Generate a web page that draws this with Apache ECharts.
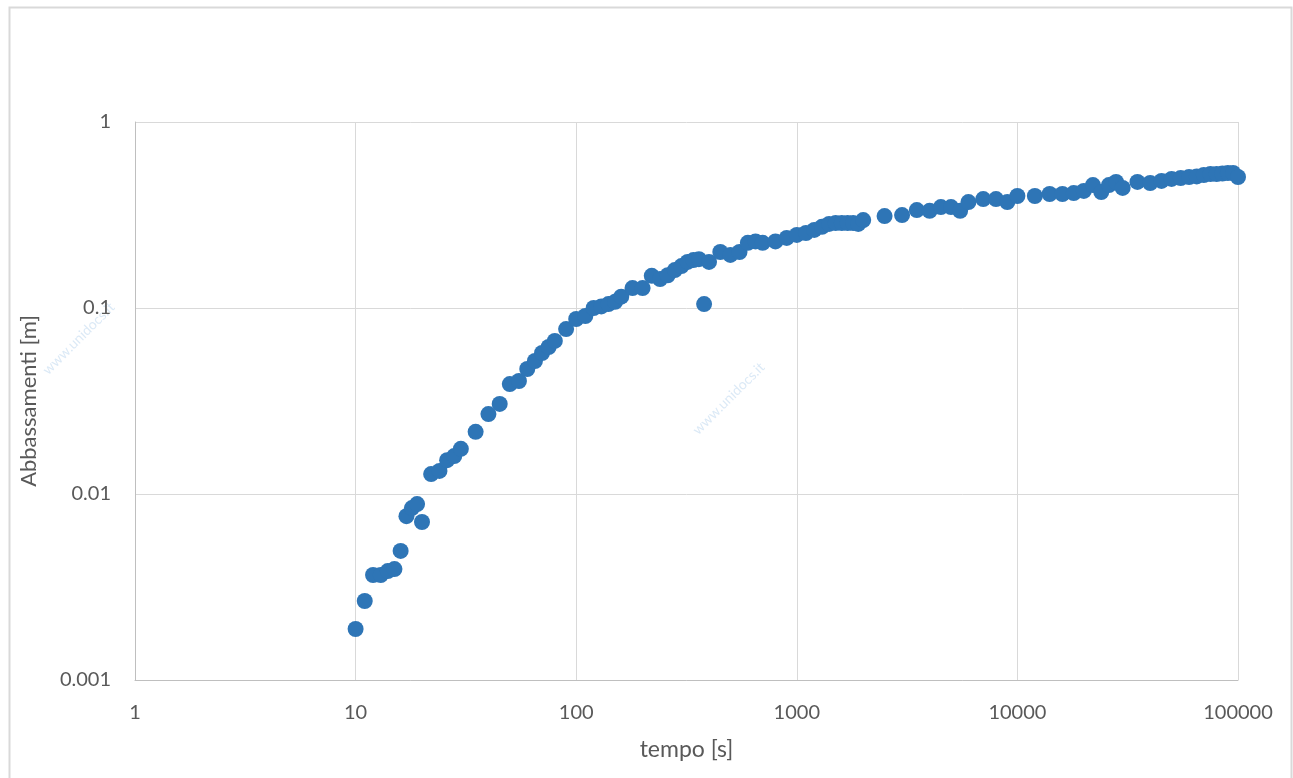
<!DOCTYPE html>
<html>
<head>
<meta charset="utf-8">
<script src="https://cdn.jsdelivr.net/npm/echarts@6/dist/echarts.min.js"></script>
<style>html,body{margin:0;padding:0;background:#fff}#c{width:1293px;height:778px}</style>
</head>
<body>
<div id="c"></div>
<script>
const tempo = [10,11,12,13,14,15,16,17,18,19,20,22,24,26,28,30,35,40,45,50,55,60,65,70,75,80,90,100,110,120,130,140,150,160,180,200,220,240,260,280,300,320,340,360,380,400,450,500,550,600,650,700,800,900,1000,1100,1200,1300,1400,1500,1600,1700,1800,1900,2000,2500,3000,3500,4000,4500,5000,5500,6000,7000,8000,9000,10000,12000,14000,16000,18000,20000,22000,24000,26000,28000,30000,35000,40000,45000,50000,55000,60000,65000,70000,75000,80000,85000,90000,95000,100000];
const abbassamenti = [0.00188,0.00266,0.00367,0.00367,0.00385,0.00395,0.00494,0.0076,0.0084,0.00883,0.00707,0.0128,0.0133,0.0152,0.016,0.0175,0.0216,0.0269,0.0305,0.039,0.0405,0.047,0.0519,0.0573,0.0617,0.0665,0.077,0.0873,0.0906,0.1,0.102,0.105,0.108,0.115,0.128,0.128,0.149,0.143,0.150,0.160,0.168,0.177,0.181,0.183,0.105,0.177,0.200,0.193,0.200,0.224,0.228,0.224,0.228,0.238,0.247,0.253,0.263,0.273,0.283,0.286,0.286,0.286,0.286,0.283,0.297,0.312,0.316,0.336,0.333,0.349,0.349,0.333,0.371,0.385,0.385,0.371,0.40,0.40,0.41,0.41,0.415,0.426,0.458,0.42,0.458,0.476,0.442,0.476,0.47,0.482,0.494,0.50,0.506,0.51,0.519,0.525,0.525,0.528,0.532,0.532,0.506];
const xName = 'tempo [s]';
const yName = 'Abbassamenti [m]';

const data = tempo.map((t, i) => [t, abbassamenti[i]]);
const fmt = v => String(+Number(v).toPrecision(6));
const font = 'Lato, "Open Sans", sans-serif';
const chart = echarts.init(document.getElementById('c'));
chart.setOption({
  animation: false,
  backgroundColor: '#fff',
  grid: { left: 135, right: 55, top: 122, bottom: 98 },
  xAxis: {
    type: 'log', logBase: 10, min: 1, max: 100000,
    name: xName, nameLocation: 'middle', nameGap: 58,
    nameTextStyle: { color: '#595959', fontSize: 23, fontFamily: font },
    axisLine: { show: true, lineStyle: { color: '#bfbfbf', width: 1 } },
    axisTick: { show: false },
    minorTick: { show: false },
    splitLine: { show: true, lineStyle: { color: '#d9d9d9', width: 1 } },
    axisLabel: { formatter: fmt, color: '#595959', fontSize: 20, fontFamily: font, margin: 23 }
  },
  yAxis: {
    type: 'log', logBase: 10, min: 0.001, max: 1,
    name: yName, nameLocation: 'middle', nameGap: 95, nameRotate: 90,
    nameTextStyle: { color: '#595959', fontSize: 22, fontFamily: font },
    axisLine: { show: true, lineStyle: { color: '#bfbfbf', width: 1 } },
    axisTick: { show: false },
    splitLine: { show: true, lineStyle: { color: '#d9d9d9', width: 1 } },
    axisLabel: { formatter: fmt, color: '#595959', fontSize: 20, fontFamily: font, margin: 24 }
  },
  graphic: [
    { type: 'rect', left: 7, top: 5, shape: { width: 1282, height: 800 }, style: { fill: 'none', stroke: '#d9d9d9', lineWidth: 2 }, silent: true },
    { type: 'text', left: 40, top: 300, rotation: Math.PI/4, style: { text: 'www.unidocs.it', fill: 'rgba(189,215,238,0.55)', font: '14px ' + font } },
    { type: 'text', left: 690, top: 360, rotation: Math.PI/4, style: { text: 'www.unidocs.it', fill: 'rgba(189,215,238,0.55)', font: '14px ' + font } }
  ],
  series: [{
    type: 'scatter',
    data: data,
    symbol: 'circle',
    symbolSize: 16,
    itemStyle: { color: '#2e75b6', opacity: 1 }
  }]
});
</script>
</body>
</html>
